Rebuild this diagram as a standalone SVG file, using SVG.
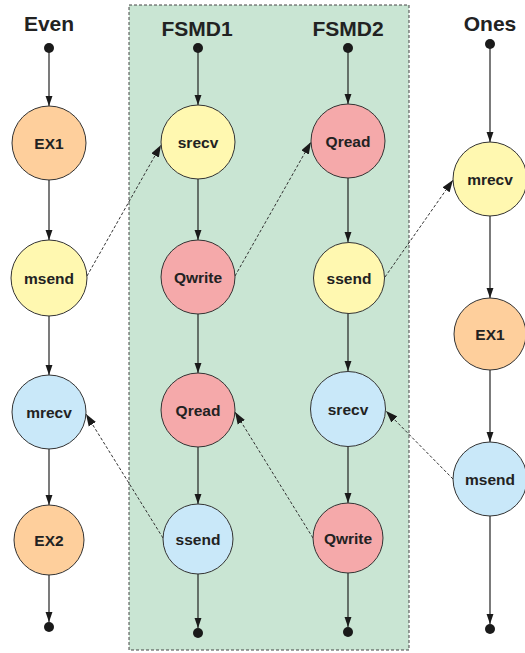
<svg xmlns="http://www.w3.org/2000/svg" width="525" height="653" viewBox="0 0 525 653">
<style>
.title{font-family:"Liberation Sans",Arial,sans-serif;font-weight:bold;font-size:21px;fill:#222;text-anchor:middle}
.lbl{font-family:"Liberation Sans",Arial,sans-serif;font-weight:bold;font-size:15.5px;fill:#222;text-anchor:middle}
.node circle{stroke:#333;stroke-width:1}
.ex{fill:#FECF9C}.y{fill:#FFF8B0}.p{fill:#F5A9AA}.b{fill:#C9E8F9}
.dot{fill:#1a1a1a}
.solid{stroke:#222;stroke-width:1.2;fill:none;marker-end:url(#ah)}
.dash{stroke:#333;stroke-width:1;stroke-dasharray:3,2;fill:none;marker-end:url(#ahs)}
</style>
<defs>
<marker id="ah" markerUnits="userSpaceOnUse" markerWidth="10" markerHeight="14" refX="13" refY="4.5" orient="auto" viewBox="0 0 13 9">
<path d="M0,0 L13,4.5 L0,9 Z" fill="#1a1a1a"/>
</marker>
<marker id="ahs" markerUnits="userSpaceOnUse" markerWidth="12" markerHeight="9" refX="12" refY="4.25" orient="auto" viewBox="0 0 12 8.5">
<path d="M0,0 L12,4.25 L0,8.5 Z" fill="#1a1a1a"/>
</marker>
</defs>
<rect id="box" x="129" y="5" width="280" height="645" fill="#C9E5D3" stroke="#444" stroke-width="1" stroke-dasharray="3,2"/>
<g id="titles">
<text class="title" x="49" y="31">Even</text>
<text class="title" x="197" y="36">FSMD1</text>
<text class="title" x="348" y="36">FSMD2</text>
<text class="title" x="490" y="31">Ones</text>
</g>
<g id="dots">
<circle class="dot" cx="49" cy="48" r="5"/>
<circle class="dot" cx="198" cy="48" r="5"/>
<circle class="dot" cx="348" cy="48" r="5"/>
<circle class="dot" cx="490" cy="44" r="5"/>
<circle class="dot" cx="49" cy="627" r="5"/>
<circle class="dot" cx="198" cy="633" r="5"/>
<circle class="dot" cx="348" cy="632" r="5"/>
<circle class="dot" cx="490" cy="629" r="5"/>
</g>
<g id="connectors">
<line class="solid" x1="49" y1="48" x2="49" y2="106"/>
<line class="solid" x1="49" y1="180" x2="49" y2="240"/>
<line class="solid" x1="49" y1="316" x2="49" y2="375"/>
<line class="solid" x1="49" y1="449" x2="49" y2="505"/>
<line class="solid" x1="49" y1="575" x2="49" y2="622"/>
<line class="solid" x1="198" y1="48" x2="198" y2="105"/>
<line class="solid" x1="198" y1="179" x2="198" y2="240"/>
<line class="solid" x1="198" y1="314" x2="198" y2="373"/>
<line class="solid" x1="198" y1="447" x2="198" y2="504"/>
<line class="solid" x1="198" y1="574" x2="198" y2="628"/>
<line class="solid" x1="348" y1="48" x2="348" y2="104"/>
<line class="solid" x1="348" y1="178" x2="348" y2="242"/>
<line class="solid" x1="348" y1="313" x2="348" y2="371"/>
<line class="solid" x1="348" y1="447" x2="348" y2="503"/>
<line class="solid" x1="348" y1="573" x2="348" y2="627"/>
<line class="solid" x1="490" y1="44" x2="490" y2="142"/>
<line class="solid" x1="490" y1="216" x2="490" y2="298"/>
<line class="solid" x1="490" y1="370" x2="490" y2="442"/>
<line class="solid" x1="490" y1="516" x2="490" y2="624"/>
<line class="dash" x1="87" y1="276" x2="161" y2="145"/>
<line class="dash" x1="235" y1="276" x2="311" y2="142"/>
<line class="dash" x1="385" y1="277" x2="453" y2="180"/>
<line class="dash" x1="163" y1="538" x2="86" y2="414"/>
<line class="dash" x1="313" y1="538" x2="235" y2="412"/>
<line class="dash" x1="453" y1="479" x2="386" y2="411"/>
</g>
<g id="even-ex1" class="node"><circle class="ex" cx="49" cy="143" r="37"/><text class="lbl" x="49" y="149">EX1</text></g>
<g id="even-msend" class="node"><circle class="y" cx="49" cy="278" r="38"/><text class="lbl" x="49" y="284">msend</text></g>
<g id="even-mrecv" class="node"><circle class="b" cx="49" cy="412" r="37"/><text class="lbl" x="49" y="418">mrecv</text></g>
<g id="even-ex2" class="node"><circle class="ex" cx="49" cy="540" r="35"/><text class="lbl" x="49" y="546">EX2</text></g>
<g id="f1-srecv" class="node"><circle class="y" cx="198" cy="142" r="37"/><text class="lbl" x="198" y="148">srecv</text></g>
<g id="f1-qwrite" class="node"><circle class="p" cx="198" cy="277" r="37"/><text class="lbl" x="198" y="283">Qwrite</text></g>
<g id="f1-qread" class="node"><circle class="p" cx="198" cy="410" r="37"/><text class="lbl" x="198" y="416">Qread</text></g>
<g id="f1-ssend" class="node"><circle class="b" cx="198" cy="539" r="35"/><text class="lbl" x="198" y="545">ssend</text></g>
<g id="f2-qread" class="node"><circle class="p" cx="348" cy="141" r="37"/><text class="lbl" x="348" y="147">Qread</text></g>
<g id="f2-ssend" class="node"><circle class="y" cx="349" cy="278" r="35.5"/><text class="lbl" x="349" y="284">ssend</text></g>
<g id="f2-srecv" class="node"><circle class="b" cx="348" cy="409" r="37.5"/><text class="lbl" x="348" y="415">srecv</text></g>
<g id="f2-qwrite" class="node"><circle class="p" cx="348" cy="538" r="35"/><text class="lbl" x="348" y="544">Qwrite</text></g>
<g id="ones-mrecv" class="node"><circle class="y" cx="490" cy="179" r="37"/><text class="lbl" x="490" y="185">mrecv</text></g>
<g id="ones-ex1" class="node"><circle class="ex" cx="490" cy="334" r="36"/><text class="lbl" x="490" y="340">EX1</text></g>
<g id="ones-msend" class="node"><circle class="b" cx="490" cy="479" r="37"/><text class="lbl" x="490" y="485">msend</text></g>
</svg>
